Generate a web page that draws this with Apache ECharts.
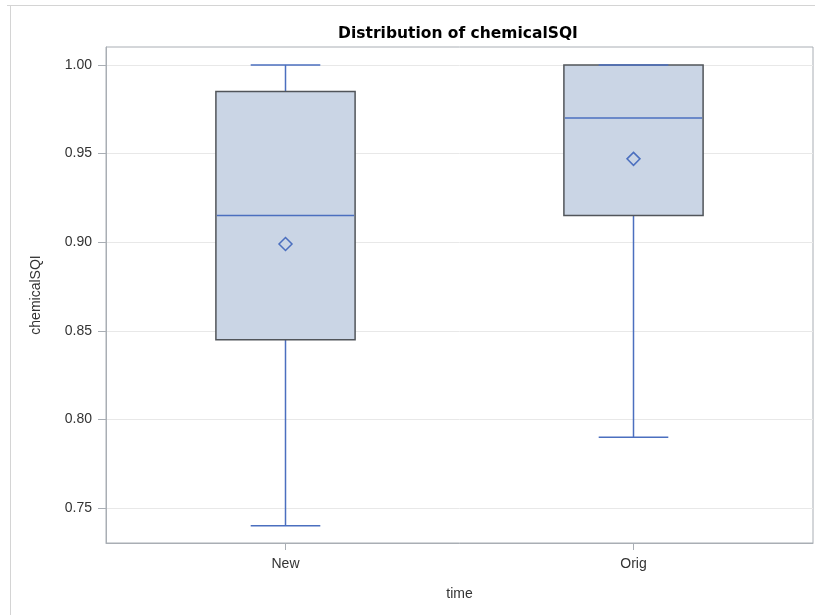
<!DOCTYPE html>
<html>
<head>
<meta charset="utf-8">
<title>Distribution of chemicalSQI</title>
<script src="https://cdn.jsdelivr.net/npm/echarts@6/dist/echarts.min.js"></script>
<style>
  html, body { margin: 0; padding: 0; background: #ffffff; }
  #chart { width: 815px; height: 615px; }
</style>
</head>
<body>
<div id="chart"></div>
<script>
// Box plot summary of chemicalSQI by time group
const categories = ['New', 'Orig'];
const whiskerLow = [0.74, 0.79];
const q1 = [0.845, 0.915];
const median = [0.915, 0.97];
const q3 = [0.985, 1.00];
const whiskerHigh = [1.00, 1.00];
const mean = [0.899, 0.947];
const yTicks = [0.75, 0.80, 0.85, 0.90, 0.95, 1.00];
const xTicks = categories.map((c, i) => i);

const BLUE = '#4b6fbf';
const BOX_FILL = '#cad5e5';
const BOX_EDGE = '#51555a';
const TEXT = '#333333';
const FRAME = '#a9aeb4';

const rows = categories.map((c, i) => [i, whiskerLow[i], q1[i], median[i], q3[i], whiskerHigh[i], mean[i]]);

// One box per group: whiskers, box, median, caps and mean marker
function renderBox(params, api) {
  const idx = api.value(0);
  const unit = api.size([1, 0])[0];
  const boxW = unit * 0.4;
  const capW = boxW / 2;
  const pLow = api.coord([idx, api.value(1)]);
  const pQ1 = api.coord([idx, api.value(2)]);
  const pMed = api.coord([idx, api.value(3)]);
  const pQ3 = api.coord([idx, api.value(4)]);
  const pHigh = api.coord([idx, api.value(5)]);
  const pMean = api.coord([idx, api.value(6)]);
  const cx = pQ1[0];
  const lineStyle = { stroke: BLUE, lineWidth: 1.5, fill: null };
  const d = 6.5;
  return {
    type: 'group',
    children: [
      { type: 'line', shape: { x1: cx, y1: pQ1[1], x2: cx, y2: pLow[1] }, style: lineStyle },
      { type: 'line', shape: { x1: cx, y1: pQ3[1], x2: cx, y2: pHigh[1] }, style: lineStyle },
      { type: 'rect', shape: { x: cx - boxW / 2, y: pQ3[1], width: boxW, height: pQ1[1] - pQ3[1] },
        style: { fill: BOX_FILL, stroke: BOX_EDGE, lineWidth: 1.5 } },
      { type: 'line', shape: { x1: cx - boxW / 2 + 1, y1: pMed[1], x2: cx + boxW / 2 - 1, y2: pMed[1] }, style: lineStyle },
      { type: 'line', shape: { x1: cx - capW / 2, y1: pLow[1], x2: cx + capW / 2, y2: pLow[1] }, style: lineStyle },
      { type: 'line', shape: { x1: cx - capW / 2, y1: pHigh[1], x2: cx + capW / 2, y2: pHigh[1] }, style: lineStyle },
      { type: 'polygon', shape: { points: [[cx, pMean[1] - d], [cx + d, pMean[1]], [cx, pMean[1] + d], [cx - d, pMean[1]]] },
        style: { fill: null, stroke: BLUE, lineWidth: 1.5 } }
    ]
  };
}

const chart = echarts.init(document.getElementById('chart'), null, { renderer: 'canvas' });
chart.setOption({
  animation: false,
  backgroundColor: '#ffffff',
  title: {
    text: 'Distribution of chemicalSQI',
    left: 453,
    textAlign: 'center',
    top: 21,
    textStyle: { fontFamily: 'DejaVu Sans', fontSize: 15.5, fontWeight: 'bold', color: '#000000' }
  },
  graphic: [
    { type: 'line', shape: { x1: 7, y1: 5.5, x2: 815, y2: 5.5 }, style: { stroke: '#d4d4d4', lineWidth: 1 }, silent: true },
    { type: 'line', shape: { x1: 10.5, y1: 5, x2: 10.5, y2: 615 }, style: { stroke: '#d4d4d4', lineWidth: 1 }, silent: true }
  ],
  grid: {
    left: 106, right: 2, top: 47, bottom: 72,
    show: true, borderColor: FRAME, borderWidth: 1, backgroundColor: 'transparent'
  },
  xAxis: {
    type: 'value',
    min: -0.5158,
    max: 1.5158,
    name: 'time',
    nameLocation: 'middle',
    nameGap: 44,
    nameTextStyle: { fontFamily: 'Liberation Sans', fontSize: 14, color: TEXT },
    axisLine: { show: true, onZero: false, lineStyle: { color: FRAME } },
    axisTick: { show: true, length: 7, customValues: xTicks, lineStyle: { color: FRAME } },
    axisLabel: {
      margin: 14, fontFamily: 'Liberation Sans', fontSize: 14, color: TEXT,
      customValues: xTicks,
      formatter: v => categories[Math.round(v)]
    },
    splitLine: { show: false }
  },
  yAxis: {
    type: 'value',
    min: 0.7303,
    max: 1.0101,
    name: 'chemicalSQI',
    nameLocation: 'middle',
    nameGap: 63,
    nameTextStyle: { fontFamily: 'Liberation Sans', fontSize: 14, color: TEXT },
    axisLine: { show: true, onZero: false, lineStyle: { color: FRAME } },
    axisTick: { show: true, length: 8, customValues: yTicks, lineStyle: { color: FRAME } },
    axisLabel: {
      margin: 14, fontFamily: 'Liberation Sans', fontSize: 14, color: TEXT,
      customValues: yTicks,
      formatter: v => v.toFixed(2)
    },
    splitLine: { show: true, lineStyle: { color: '#e8e8e8', width: 1 } }
  },
  series: [{
    type: 'custom',
    renderItem: renderBox,
    encode: { x: 0, y: [1, 2, 3, 4, 5, 6] },
    data: rows
  }]
});
</script>
</body>
</html>
